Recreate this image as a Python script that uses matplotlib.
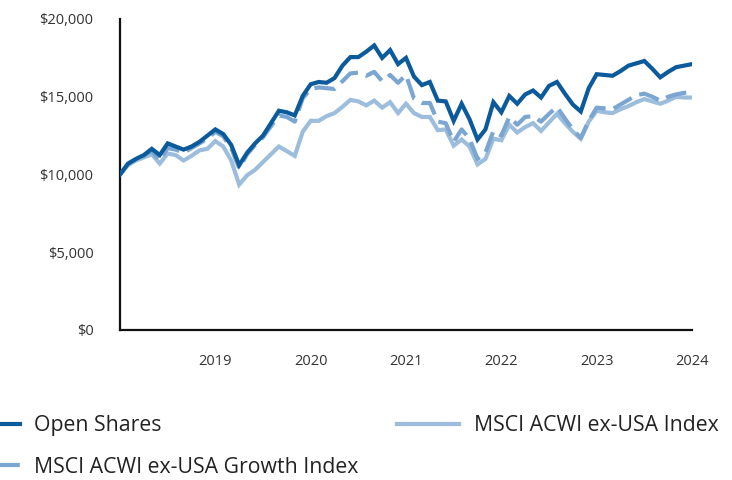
import matplotlib
matplotlib.use("Agg")
import matplotlib.pyplot as plt
from matplotlib.ticker import FuncFormatter

plt.rcParams['font.family'] = ['Open Sans', 'DejaVu Sans']

# Monthly values (in $ thousands), Dec 2017 .. Dec 2023
open_shares = [10.0, 10.7, 11.0, 11.25, 11.65, 11.25, 12.0, 11.8, 11.6, 11.8, 12.1, 12.5,
               12.9, 12.6, 11.9, 10.6, 11.4, 12.0, 12.5, 13.3, 14.1, 14.0, 13.8, 15.05,
               15.8, 15.95, 15.9, 16.2, 17.0, 17.55, 17.55, 17.9, 18.3, 17.5, 18.0, 17.1,
               17.5, 16.3, 15.75, 15.95, 14.75, 14.7, 13.45, 14.55, 13.55, 12.25, 12.9, 14.65,
               14.0, 15.05, 14.55, 15.15, 15.4, 14.95, 15.7, 15.95, 15.2, 14.5, 14.05, 15.55,
               16.45, 16.4, 16.35, 16.65, 17.0, 17.15, 17.3, 16.8, 16.25, 16.6, 16.9, 17.0, 17.1]
growth_index = [10.0, 10.65, 11.0, 11.2, 11.5, 10.9, 11.7, 11.6, 11.4, 11.7, 12.0, 12.3,
                12.75, 12.45, 11.7, 10.4, 11.3, 11.9, 12.4, 13.1, 13.8, 13.7, 13.4, 14.9,
                15.5, 15.6, 15.55, 15.5, 16.0, 16.5, 16.55, 16.35, 16.6, 16.0, 16.4, 15.9,
                16.4, 14.9, 14.6, 14.6, 13.4, 13.3, 12.1, 12.9, 12.3, 11.0, 11.4, 12.8,
                12.5, 13.7, 13.2, 13.7, 13.75, 13.4, 13.9, 14.35, 13.6, 12.9, 12.35, 13.45,
                14.3, 14.25, 14.2, 14.5, 14.8, 15.1, 15.2, 15.0, 14.75, 15.0, 15.15, 15.25, 15.3]
acwi_index = [10.0, 10.6, 10.9, 11.1, 11.3, 10.7, 11.35, 11.25, 10.9, 11.2, 11.55, 11.65,
              12.15, 11.8, 10.9, 9.35, 9.95, 10.3, 10.8, 11.3, 11.8, 11.5, 11.2, 12.75,
              13.45, 13.45, 13.75, 13.95, 14.35, 14.8, 14.7, 14.45, 14.75, 14.3, 14.65, 13.95,
              14.55, 13.95, 13.7, 13.7, 12.85, 12.9, 11.85, 12.25, 11.8, 10.65, 11.0, 12.3,
              12.2, 13.2, 12.7, 13.05, 13.3, 12.8, 13.35, 13.9, 13.3, 12.75, 12.3, 13.4,
              14.1, 14.0, 13.95, 14.2, 14.4, 14.65, 14.85, 14.7, 14.55, 14.75, 15.0, 14.95, 14.95]
year_labels = ["2019", "2020", "2021", "2022", "2023", "2024"]
y_ticks = [0, 5000, 10000, 15000, 20000]

months = list(range(len(open_shares)))
to_dollars = lambda s: [v * 1000 for v in s]

fig = plt.figure(figsize=(7.32, 4.8), dpi=100)
ax = fig.add_axes([120/732, 1 - 330/480, (692-120)/732, (330-19)/480])

c_dark = "#0b5a9c"
c_dash = "#7aa6d1"
c_light = "#9cbddb"

ax.plot(months, to_dollars(acwi_index), color=c_light, lw=3.0, solid_joinstyle='miter',
        label="MSCI ACWI ex-USA Index", zorder=2)
ax.plot(months, to_dollars(growth_index), color=c_dash, lw=3.0, dashes=(5, 2),
        label="MSCI ACWI ex-USA Growth Index", zorder=3)
ax.plot(months, to_dollars(open_shares), color=c_dark, lw=3.0, solid_joinstyle='miter',
        label="Open Shares", zorder=4)

ax.set_xlim(0, 72)
ax.set_ylim(0, 20000)
ax.set_yticks(y_ticks)
ax.yaxis.set_major_formatter(FuncFormatter(lambda v, p: f"${v:,.0f}"))
ax.set_xticks([12 * (i + 1) for i in range(len(year_labels))])
ax.set_xticklabels(year_labels)
ax.tick_params(axis='both', length=0, labelsize=10.5, labelcolor="#333333")
ax.tick_params(axis='y', pad=19)
ax.tick_params(axis='x', pad=17.5)
for s in ["top", "right"]:
    ax.spines[s].set_visible(False)
for s in ["left", "bottom"]:
    ax.spines[s].set_linewidth(1.6)
    ax.spines[s].set_color("#111111")

h, l = ax.get_legend_handles_labels()
order = [2, 1, 0]
fig.legend([h[i] for i in order], [l[i] for i in order], ncol=2, frameon=False,
           loc="upper left", bbox_to_anchor=(-42/732, 1 - 415/480),
           fontsize=15.3, handlelength=2.9, handletextpad=0.7, columnspacing=1.8,
           labelspacing=0.98, borderaxespad=0, borderpad=0, labelcolor="#222222")

fig.savefig("out.png", dpi=100)
